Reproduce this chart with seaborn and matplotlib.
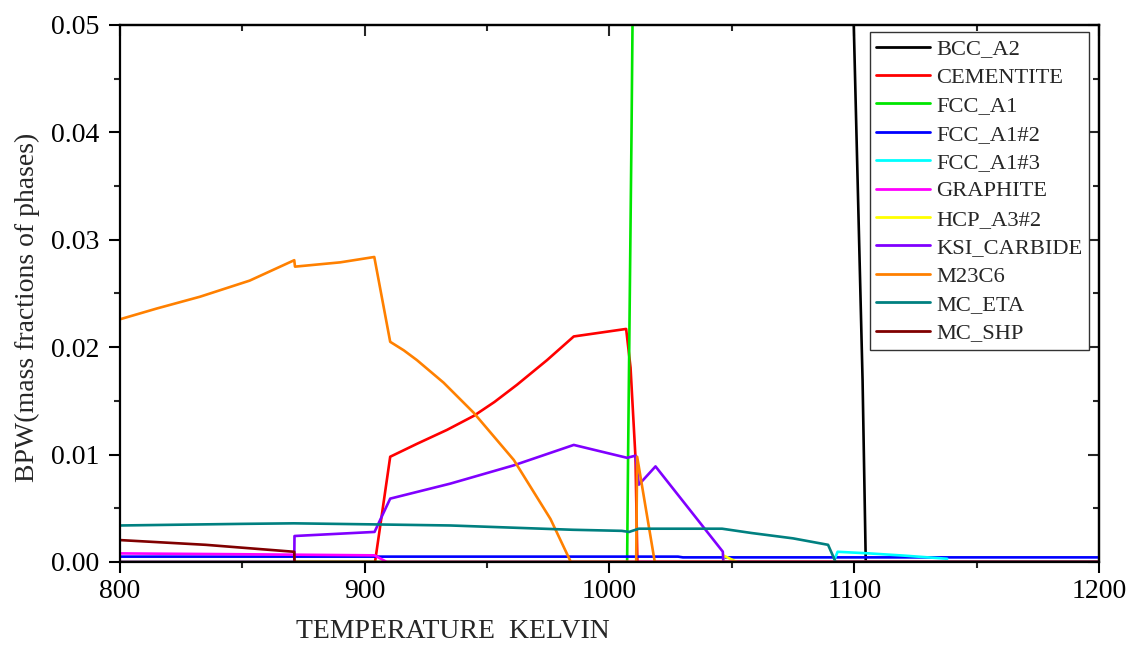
import matplotlib
matplotlib.use("Agg")
import matplotlib.pyplot as plt
from matplotlib.ticker import MultipleLocator, FormatStrFormatter
import seaborn as sns
import pandas as pd

# values (temperature K, mass fraction)
bcc_T = [1095, 1099.8, 1103.4, 1104.7, 1200]
bcc_w = [0.2, 0.05, 0.0169, 0.0, 0.0]

cem_T = [800, 904.2, 910.4, 921.3, 933.6, 944.5, 953.0, 962.2, 974.5, 985.4, 1006.8, 1008.6, 1010.6, 1011.4, 1200]
cem_w = [0, 0, 0.0098, 0.0110, 0.0123, 0.0136, 0.0149, 0.0165, 0.0188, 0.0210, 0.0217, 0.0181, 0.0098, 0, 0]

fcc_T = [800, 1007.2, 1007.6, 1008.3, 1009.0, 1009.6]
fcc_w = [0, 0, 0.01, 0.025, 0.04, 0.055]

fcc2_T = [800, 1028, 1030, 1200]
fcc2_w = [0.0005, 0.0005, 0.00043, 0.00043]

fcc3_T = [1091.5, 1093.2, 1105.4, 1120, 1138]
fcc3_w = [0, 0.00095, 0.00081, 0.0006, 0.0003]

gra_T = [800, 850, 904, 909, 1200]
gra_w = [0.0008, 0.00072, 0.00062, 0, 0]

hcp_T = [1046.4, 1046.6, 1052]
hcp_w = [0, 0.0006, 0]

ksi_T = [800, 871.2, 871.3, 904, 910.4, 935, 960.9, 985.4, 1007.2, 1010.6, 1012, 1018.8, 1046.3, 1046.5, 1200]
ksi_w = [0, 0, 0.00242, 0.0028, 0.0059, 0.0073, 0.0090, 0.0109, 0.0097, 0.0099, 0.0072, 0.0089, 0.00096, 0, 0]

m23_T = [800, 815, 832.7, 853, 871.2, 871.5, 890, 903.9, 910.4, 916.0, 921.3, 932.2, 944.5, 960.9, 975.9, 984.2,
         1010.9, 1011.3, 1018.5, 1200]
m23_w = [0.0226, 0.0236, 0.0247, 0.0262, 0.0281, 0.0275, 0.0279, 0.0284, 0.0205, 0.0197, 0.0188, 0.0167, 0.0139,
         0.0095, 0.0040, 0, 0, 0.0098, 0, 0]

eta_T = [800, 850, 871, 904, 935, 960, 985, 1005, 1008, 1012, 1046, 1058, 1075, 1089.3, 1092.4, 1200]
eta_w = [0.0034, 0.00355, 0.0036, 0.0035, 0.0034, 0.0032, 0.0030, 0.0029, 0.0028, 0.0031, 0.0031, 0.0027,
         0.0022, 0.0016, 0, 0]

shp_T = [800, 835, 871.2, 871.3, 1200]
shp_w = [0.00204, 0.0016, 0.00095, 0, 0]

phases = ["BCC_A2", "CEMENTITE", "FCC_A1", "FCC_A1#2", "FCC_A1#3", "GRAPHITE",
          "HCP_A3#2", "KSI_CARBIDE", "M23C6", "MC_ETA", "MC_SHP"]
colors = ["#000000", "#FF0000", "#00E600", "#0000FF", "#00FFFF", "#FF00FF",
          "#FFFF00", "#8000FF", "#FF8000", "#008080", "#800000"]
series = [(bcc_T, bcc_w), (cem_T, cem_w), (fcc_T, fcc_w), (fcc2_T, fcc2_w), (fcc3_T, fcc3_w),
          (gra_T, gra_w), (hcp_T, hcp_w), (ksi_T, ksi_w), (m23_T, m23_w), (eta_T, eta_w), (shp_T, shp_w)]


def main():
    sns.set_style("ticks")
    plt.rcParams['font.family'] = ['Liberation Serif', 'DejaVu Serif']

    fig = plt.figure(figsize=(11.33, 6.56), dpi=100)
    ax = fig.add_axes([0.1059, 0.1433, 0.8641, 0.8186])

    for name, col, (t, w) in zip(phases, colors, series):
        df = pd.DataFrame({"T": t, "w": w})
        sns.lineplot(data=df, x="T", y="w", color=col, label=name, ax=ax,
                     sort=False, estimator=None, linewidth=1.9)

    ax.set_xlim(800, 1200)
    ax.set_ylim(0, 0.05)
    ax.xaxis.set_major_locator(MultipleLocator(100))
    ax.xaxis.set_minor_locator(MultipleLocator(50))
    ax.yaxis.set_major_locator(MultipleLocator(0.01))
    ax.yaxis.set_minor_locator(MultipleLocator(0.005))
    ax.yaxis.set_major_formatter(FormatStrFormatter('%.2f'))
    ax.tick_params(which='major', direction='out', length=8, width=1.5, labelsize=20, colors='black')
    ax.tick_params(which='minor', direction='out', length=4, width=1.5)
    ax.tick_params(axis='y', which='major', pad=7)
    ax.tick_params(axis='x', which='major', pad=4)

    # mirrored ticks pointing inwards on top and right
    top = ax.secondary_xaxis('top')
    top.xaxis.set_major_locator(MultipleLocator(100))
    top.xaxis.set_minor_locator(MultipleLocator(50))
    top.tick_params(which='major', direction='in', length=8, width=1.5, labeltop=False)
    top.tick_params(which='minor', direction='in', length=4, width=1.5)
    right = ax.secondary_yaxis('right')
    right.yaxis.set_major_locator(MultipleLocator(0.01))
    right.yaxis.set_minor_locator(MultipleLocator(0.005))
    right.tick_params(which='major', direction='in', length=8, width=1.5, labelright=False)
    right.tick_params(which='minor', direction='in', length=4, width=1.5)
    for a in (ax, top, right):
        for s in a.spines.values():
            s.set_linewidth(1.6)
            s.set_color('black')

    ax.set_xlabel("TEMPERATURE  KELVIN", fontsize=20)
    ax.xaxis.set_label_coords(0.34, -0.107)
    ax.set_ylabel("BPW(mass fractions of phases)", fontsize=20)
    ax.yaxis.set_label_coords(-0.082, 0.475)

    leg = ax.legend(loc='upper right', bbox_to_anchor=(0.9898, 0.987), fontsize=16.2,
                    frameon=True, fancybox=False, framealpha=1, edgecolor='#333333',
                    handlelength=2.4, handletextpad=0.25, labelspacing=0.34,
                    borderpad=0.3, borderaxespad=0)
    leg.get_frame().set_linewidth(1.0)
    for line in leg.get_lines():
        line.set_linewidth(2.0)

    fig.savefig("out.png", dpi=100)


if __name__ == "__main__":
    main()
